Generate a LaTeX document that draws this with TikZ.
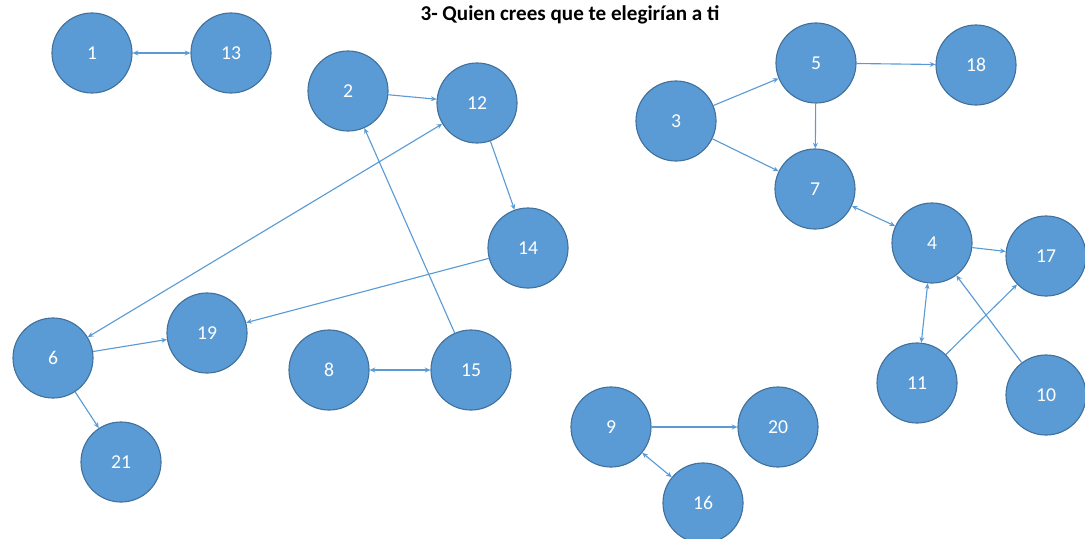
\documentclass[tikz,border=0pt]{standalone}
\usepackage{fontspec}
\setmainfont{Carlito}
\usepackage{xcolor}
\usetikzlibrary{arrows.meta}
\definecolor{nodefill}{HTML}{5B9BD5}
\definecolor{nodeedge}{HTML}{41719C}

\begin{document}
\begin{tikzpicture}[x=0.025cm, y=-0.025cm, >={Stealth[length=4pt,width=3.5pt]},
    pers/.style={circle, fill=nodefill, draw=nodeedge, line width=0.8pt,
      minimum size=2cm, inner sep=0pt, text=white, font=\fontsize{14}{16}\selectfont},
    link/.style={draw=nodefill, line width=0.8pt}]
  \useasboundingbox (0,0) rectangle (1085,539);
  \node[font=\bfseries\fontsize{15}{17}\selectfont] (title) at (570,15) {3- Quien crees que te elegirían a ti};

  % Personas
  \node[pers] (n1)  at (92,53)   {1};
  \node[pers] (n13) at (231,53)  {13};
  \node[pers] (n2)  at (348,91)  {2};
  \node[pers] (n12) at (477,103) {12};
  \node[pers] (n3)  at (676,121) {3};
  \node[pers] (n5)  at (816,63)  {5};
  \node[pers] (n18) at (976,65)  {18};
  \node[pers] (n7)  at (815,189) {7};
  \node[pers] (n14) at (528,248) {14};
  \node[pers] (n4)  at (932,243) {4};
  \node[pers] (n17) at (1046,256) {17};
  \node[pers] (n6)  at (53,358)  {6};
  \node[pers] (n19) at (207,333) {19};
  \node[pers] (n8)  at (329,370) {8};
  \node[pers] (n15) at (471,370) {15};
  \node[pers] (n11) at (917,383) {11};
  \node[pers] (n10) at (1046,395) {10};
  \node[pers] (n9)  at (611,427) {9};
  \node[pers] (n20) at (778,427) {20};
  \node[pers] (n21) at (121,462) {21};
  \node[pers] (n16) at (703,503) {16};

  % Elecciones
  \draw[link, <->] (n1) -- (n13);
  \draw[link, ->] (n2) -- (n12);
  \draw[link, ->] (n12) -- (n14);
  \draw[link, <->] (n12) -- (n6);
  \draw[link, ->] (n15) -- (n2);
  \draw[link, ->] (n14) -- (n19);
  \draw[link, ->] (n6) -- (n19);
  \draw[link, ->] (n6) -- (n21);
  \draw[link, <->] (n8) -- (n15);
  \draw[link, ->] (n3) -- (n5);
  \draw[link, ->] (n3) -- (n7);
  \draw[link, ->] (n5) -- (n18);
  \draw[link, ->] (n5) -- (n7);
  \draw[link, <->] (n7) -- (n4);
  \draw[link, ->] (n4) -- (n17);
  \draw[link, <->] (n4) -- (n11);
  \draw[link, ->] (n11) -- (n17);
  \draw[link, ->] (n10) -- (n4);
  \draw[link, ->] (n9) -- (n20);
  \draw[link, <->] (n9) -- (n16);
\end{tikzpicture}
\end{document}
